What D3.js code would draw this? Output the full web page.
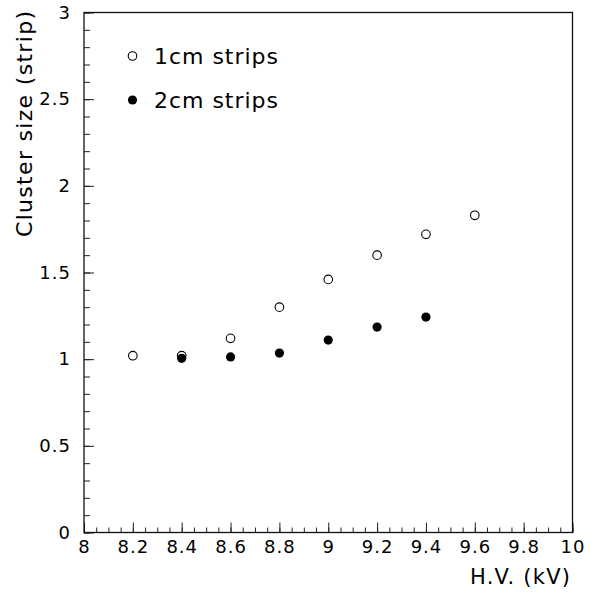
<!DOCTYPE html>
<html>
<head>
<meta charset="utf-8">
<script src="https://cdn.jsdelivr.net/npm/d3@7"></script>
<style>
  body { margin: 0; background: #fff; }
  svg { display: block; font-family: "DejaVu Sans", sans-serif; }
  .domain { display: none; }
</style>
</head>
<body>
<div id="chart"></div>
<script>
var width = 598;
var height = 593;

// data
var hv1cm = [8.2, 8.4, 8.6, 8.8, 9.0, 9.2, 9.4, 9.6];
var size1cm = [1.02, 1.02, 1.12, 1.30, 1.46, 1.60, 1.72, 1.83];
var hv2cm = [8.4, 8.6, 8.8, 9.0, 9.2, 9.4];
var size2cm = [1.005, 1.013, 1.035, 1.11, 1.185, 1.243];

var xTicks = [8, 8.2, 8.4, 8.6, 8.8, 9, 9.2, 9.4, 9.6, 9.8, 10];
var yTicks = [0, 0.5, 1, 1.5, 2, 2.5, 3];
var legendLabels = ["1cm strips", "2cm strips"];

var xScale = d3.scaleLinear().domain([8, 10]).range([84, 572.5]);
var yScale = d3.scaleLinear().domain([0, 3]).range([532.5, 12.5]);

var svg = d3.select("#chart").append("svg")
  .attr("width", width)
  .attr("height", height);

// minor ticks
var xMinor = d3.range(0, 41).map(function (i) { return 8 + i * 0.05; });
var yMinor = d3.range(0, 31).map(function (i) { return i * 0.1; });

svg.append("g")
  .attr("transform", "translate(0," + yScale(0) + ")")
  .call(d3.axisBottom(xScale).tickValues(xMinor).tickSize(-5).tickFormat(""))
  .selectAll("line").attr("stroke", "#222");

svg.append("g")
  .attr("transform", "translate(" + xScale(8) + ",0)")
  .call(d3.axisLeft(yScale).tickValues(yMinor).tickSize(-6).tickFormat(""))
  .selectAll("line").attr("stroke", "#222");

// major ticks with labels
var gx = svg.append("g")
  .attr("transform", "translate(0," + yScale(0) + ")")
  .call(d3.axisBottom(xScale).tickValues(xTicks).tickSize(-10).tickPadding(8)
    .tickFormat(d3.format("~g")));

var gy = svg.append("g")
  .attr("transform", "translate(" + xScale(8) + ",0)")
  .call(d3.axisLeft(yScale).tickValues(yTicks).tickSize(-10).tickPadding(13)
    .tickFormat(d3.format("~g")));

[gx, gy].forEach(function (g) {
  g.attr("font-size", 18).attr("font-family", "DejaVu Sans, sans-serif");
  g.selectAll("line").attr("stroke", "#222");
  g.selectAll("text").attr("fill", "#000").attr("letter-spacing", 1);
});

// frame
svg.append("rect")
  .attr("x", xScale(8))
  .attr("y", yScale(3))
  .attr("width", xScale(10) - xScale(8))
  .attr("height", yScale(0) - yScale(3))
  .attr("fill", "none")
  .attr("stroke", "#111")
  .attr("stroke-width", 1.3);

// points
svg.append("g").selectAll("circle")
  .data(hv1cm)
  .enter()
  .append("circle")
  .attr("cx", function (d) { return xScale(d); })
  .attr("cy", function (d, i) { return yScale(size1cm[i]); })
  .attr("r", 4.3)
  .attr("fill", "none")
  .attr("stroke", "#000")
  .attr("stroke-width", 1.1);

svg.append("g").selectAll("circle")
  .data(hv2cm)
  .enter()
  .append("circle")
  .attr("cx", function (d) { return xScale(d); })
  .attr("cy", function (d, i) { return yScale(size2cm[i]); })
  .attr("r", 4.6)
  .attr("fill", "#000");

// legend
var legend = svg.append("g");
legendLabels.forEach(function (label, i) {
  var y = 56 + i * 44;
  legend.append("circle")
    .attr("cx", 132.5)
    .attr("cy", y)
    .attr("r", i === 0 ? 4.3 : 4.6)
    .attr("fill", i === 0 ? "none" : "#000")
    .attr("stroke", i === 0 ? "#000" : "none")
    .attr("stroke-width", 1.1);
  legend.append("text")
    .attr("x", 154)
    .attr("y", y + 8)
    .attr("font-size", 22)
    .attr("textLength", 124)
    .attr("lengthAdjust", "spacing")
    .text(label);
});

// axis titles
svg.append("text")
  .attr("x", 570)
  .attr("y", 584)
  .attr("font-size", 21)
  .attr("text-anchor", "end")
  .attr("textLength", 100)
  .attr("lengthAdjust", "spacing")
  .text("H.V. (kV)");

svg.append("text")
  .attr("transform", "translate(32,11) rotate(-90)")
  .attr("font-size", 22)
  .attr("text-anchor", "end")
  .attr("textLength", 226)
  .attr("lengthAdjust", "spacing")
  .text("Cluster size (strip)");
</script>
</body>
</html>
